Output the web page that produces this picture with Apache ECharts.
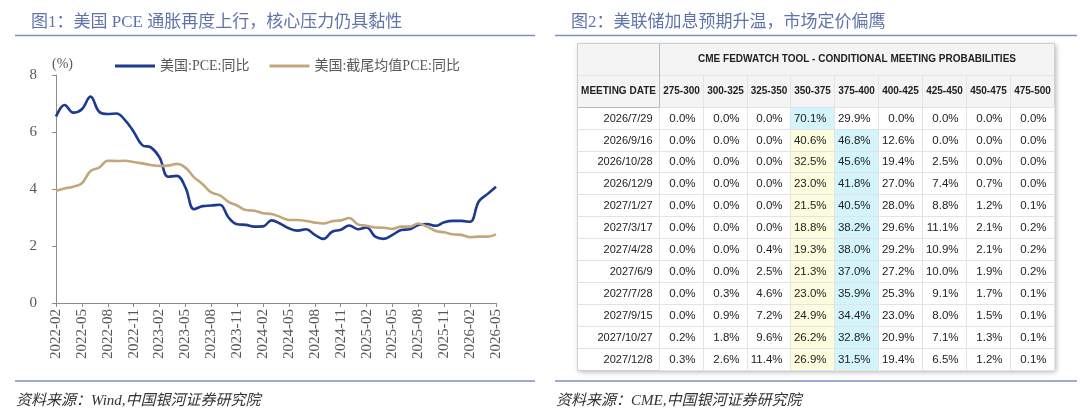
<!DOCTYPE html>
<html>
<head>
<meta charset="utf-8">
<script src="https://cdn.jsdelivr.net/npm/echarts@6/dist/echarts.min.js"></script>
<style>
  html, body { margin: 0; padding: 0; background: #fff; }
  #main { width: 1080px; height: 416px; }
</style>
</head>
<body>
<div id="main"></div>
<script>
// 图1 数据
const months = [
  '2022-02','2022-03','2022-04','2022-05','2022-06','2022-07','2022-08','2022-09','2022-10','2022-11','2022-12',
  '2023-01','2023-02','2023-03','2023-04','2023-05','2023-06','2023-07','2023-08','2023-09','2023-10','2023-11','2023-12',
  '2024-01','2024-02','2024-03','2024-04','2024-05','2024-06','2024-07','2024-08','2024-09','2024-10','2024-11','2024-12',
  '2025-01','2025-02','2025-03','2025-04','2025-05','2025-06','2025-07','2025-08','2025-09','2025-10','2025-11','2025-12',
  '2026-01','2026-02','2026-03','2026-04','2026-05'
]
const pceYoY = [
  6.54, 6.95, 6.68, 6.8, 7.24, 6.71, 6.63, 6.65, 6.42, 6.01, 5.54,
  5.46, 5.11, 4.43, 4.46, 4.06, 3.29, 3.4, 3.42, 3.45, 3.0, 2.76, 2.74,
  2.68, 2.69, 2.9, 2.78, 2.62, 2.54, 2.59, 2.39, 2.25, 2.5, 2.57, 2.72,
  2.59, 2.65, 2.33, 2.25, 2.39, 2.56, 2.59, 2.74, 2.77, 2.71, 2.83, 2.88,
  2.88, 2.85, 3.56, 3.82, 4.08
]
const trimmedPceYoY = [
  3.94, 4.02, 4.08, 4.2, 4.63, 4.75, 4.99, 4.98, 4.99, 4.95, 4.9,
  4.84, 4.81, 4.82, 4.88, 4.75, 4.41, 4.17, 3.88, 3.78, 3.55, 3.42, 3.26,
  3.24, 3.15, 3.12, 3.02, 2.91, 2.91, 2.88, 2.82, 2.79, 2.87, 2.9, 2.98,
  2.76, 2.71, 2.65, 2.64, 2.6, 2.68, 2.68, 2.79, 2.68, 2.53, 2.48, 2.41,
  2.39, 2.31, 2.33, 2.33, 2.41
]

// 图2 数据
const rateRanges = ['275-300','300-325','325-350','350-375','375-400','400-425','425-450','450-475','475-500']
const meetingDates = ['2026/7/29','2026/9/16','2026/10/28','2026/12/9','2027/1/27','2027/3/17',
  '2027/4/28','2027/6/9','2027/7/28','2027/9/15','2027/10/27','2027/12/8']
const probRows = [
  [0.0, 0.0, 0.0, 70.1, 29.9, 0.0, 0.0, 0.0, 0.0],
  [0.0, 0.0, 0.0, 40.6, 46.8, 12.6, 0.0, 0.0, 0.0],
  [0.0, 0.0, 0.0, 32.5, 45.6, 19.4, 2.5, 0.0, 0.0],
  [0.0, 0.0, 0.0, 23.0, 41.8, 27.0, 7.4, 0.7, 0.0],
  [0.0, 0.0, 0.0, 21.5, 40.5, 28.0, 8.8, 1.2, 0.1],
  [0.0, 0.0, 0.0, 18.8, 38.2, 29.6, 11.1, 2.1, 0.2],
  [0.0, 0.0, 0.4, 19.3, 38.0, 29.2, 10.9, 2.1, 0.2],
  [0.0, 0.0, 2.5, 21.3, 37.0, 27.2, 10.0, 1.9, 0.2],
  [0.0, 0.3, 4.6, 23.0, 35.9, 25.3, 9.1, 1.7, 0.1],
  [0.0, 0.9, 7.2, 24.9, 34.4, 23.0, 8.0, 1.5, 0.1],
  [0.2, 1.8, 9.6, 26.2, 32.8, 20.9, 7.1, 1.3, 0.1],
  [0.3, 2.6, 11.4, 26.9, 31.5, 19.4, 6.5, 1.2, 0.1]
]
const currentRange = '350-375'

const titleColor = '#5f74ad'
const ruleColor = '#7b8fc2'
const gridColor = '#e3e3e3'
const headBg = '#f4f4f4'
const tableFont = 'Liberation Sans, Arial, sans-serif'
const serifFont = 'Liberation Serif, Noto Sans CJK SC, serif'

// 表格单元格: 最大概率青色, 当前区间黄色
const cells = []
probRows.forEach((row, yi) => {
  const maxV = Math.max(...row)
  row.forEach((v, xi) => {
    let bg = '#ffffff'
    if (v === maxV) bg = '#d3f4fb'
    else if (rateRanges[xi] === currentRange) bg = '#fcfcdf'
    cells.push({
      coord: [xi, yi],
      value: v.toFixed(1) + '%',
      itemStyle: { color: bg }
    })
  })
})

const chart = echarts.init(document.getElementById('main'))

chart.setOption({
  animation: false,
  backgroundColor: '#fff',
  title: [
    { text: '图1：美国 PCE 通胀再度上行，核心压力仍具黏性', left: 26, top: 9,
      textStyle: { color: titleColor, fontSize: 17, fontWeight: 'normal', fontFamily: serifFont } },
    { text: '图2：美联储加息预期升温，市场定价偏鹰', left: 566, top: 9,
      textStyle: { color: titleColor, fontSize: 17, fontWeight: 'normal', fontFamily: serifFont } },
    { text: '资料来源：Wind,中国银河证券研究院', left: 11, top: 389,
      textStyle: { color: '#333', fontSize: 15, fontWeight: 'normal', fontStyle: 'italic', fontFamily: serifFont } },
    { text: '资料来源：CME,中国银河证券研究院', left: 551, top: 389,
      textStyle: { color: '#333', fontSize: 15, fontWeight: 'normal', fontStyle: 'italic', fontFamily: serifFont } }
  ],
  graphic: [
    { type: 'line', shape: { x1: 15, y1: 35.5, x2: 535, y2: 35.5 }, style: { stroke: ruleColor, lineWidth: 1.5 } },
    { type: 'line', shape: { x1: 555, y1: 35.5, x2: 1077, y2: 35.5 }, style: { stroke: ruleColor, lineWidth: 1.5 } },
    { type: 'line', shape: { x1: 15, y1: 381, x2: 535, y2: 381 }, style: { stroke: ruleColor, lineWidth: 1.5 } },
    { type: 'line', shape: { x1: 555, y1: 381, x2: 1077, y2: 381 }, style: { stroke: ruleColor, lineWidth: 1.5 } }
  ],
  legend: {
    left: 110,
    top: 54,
    icon: 'rect',
    itemWidth: 40,
    itemHeight: 3,
    itemGap: 20,
    textStyle: { color: '#595959', fontSize: 14, fontFamily: serifFont },
    data: ['美国:PCE:同比', '美国:截尾均值PCE:同比']
  },
  grid: { left: 56, top: 75, width: 440, height: 228 },
  xAxis: {
    type: 'category',
    data: months,
    boundaryGap: false,
    axisLine: { lineStyle: { color: '#8c8c8c' } },
    axisTick: { interval: 2, length: 4, lineStyle: { color: '#8c8c8c' } },
    axisLabel: { interval: 2, rotate: 90, margin: 6, color: '#595959', fontSize: 15, fontFamily: serifFont }
  },
  yAxis: {
    type: 'value',
    min: 0,
    max: 8,
    interval: 2,
    name: '(%)',
    nameLocation: 'end',
    nameGap: 4,
    nameTextStyle: { color: '#595959', fontSize: 14, fontFamily: serifFont, align: 'left', padding: [0, 0, 0, -4] },
    splitLine: { show: false },
    axisLine: { show: true, lineStyle: { color: '#8c8c8c' } },
    axisTick: { show: true, length: 4, lineStyle: { color: '#8c8c8c' } },
    axisLabel: { margin: 19, color: '#595959', fontSize: 15, fontFamily: serifFont }
  },
  matrix: {
    left: 577,
    top: 43,
    width: 477,
    height: 327,
    x: {
      data: [{ value: 'CME FEDWATCH TOOL - CONDITIONAL MEETING PROBABILITIES', children: rateRanges }],
      levelSize: 32,
      levels: [{ levelSize: 32 }, { levelSize: 32 }],
      label: { fontSize: 10, fontWeight: 'bold', color: '#222', fontFamily: tableFont },
      itemStyle: { color: headBg, borderColor: gridColor, borderWidth: 1 }
    },
    y: {
      data: meetingDates,
      levelSize: 82,
      levels: [{ levelSize: 82 }],
      label: { fontSize: 11, color: '#222', fontFamily: tableFont, position: 'insideRight', distance: 4, align: 'right' },
      itemStyle: { color: '#fff', borderColor: gridColor, borderWidth: 1 }
    },
    corner: {
      data: [{ coord: [-1, -1], value: 'MEETING DATE' }],
      label: { fontSize: 10, fontWeight: 'bold', color: '#222', fontFamily: tableFont },
      itemStyle: { color: headBg, borderColor: gridColor, borderWidth: 1 }
    },
    body: {
      data: cells,
      label: { fontSize: 11.5, color: '#222', fontFamily: tableFont, position: 'insideRight', distance: 5, align: 'right' },
      itemStyle: { color: '#fff', borderColor: gridColor, borderWidth: 1 }
    },
    backgroundStyle: {
      color: '#fff',
      borderColor: '#d0d0d0',
      borderWidth: 1,
      shadowBlur: 5,
      shadowColor: 'rgba(0,0,0,0.3)',
      shadowOffsetX: 2,
      shadowOffsetY: 2
    }
  },
  series: [
    {
      name: '美国:PCE:同比',
      type: 'line',
      data: pceYoY,
      smooth: 0.4,
      showSymbol: false,
      itemStyle: { color: '#1c3a8f' },
      lineStyle: { color: '#1c3a8f', width: 2.6 }
    },
    {
      name: '美国:截尾均值PCE:同比',
      type: 'line',
      data: trimmedPceYoY,
      smooth: 0.4,
      showSymbol: false,
      itemStyle: { color: '#c3a77b' },
      lineStyle: { color: '#c3a77b', width: 2.6 }
    }
  ]
})
</script>
</body>
</html>
